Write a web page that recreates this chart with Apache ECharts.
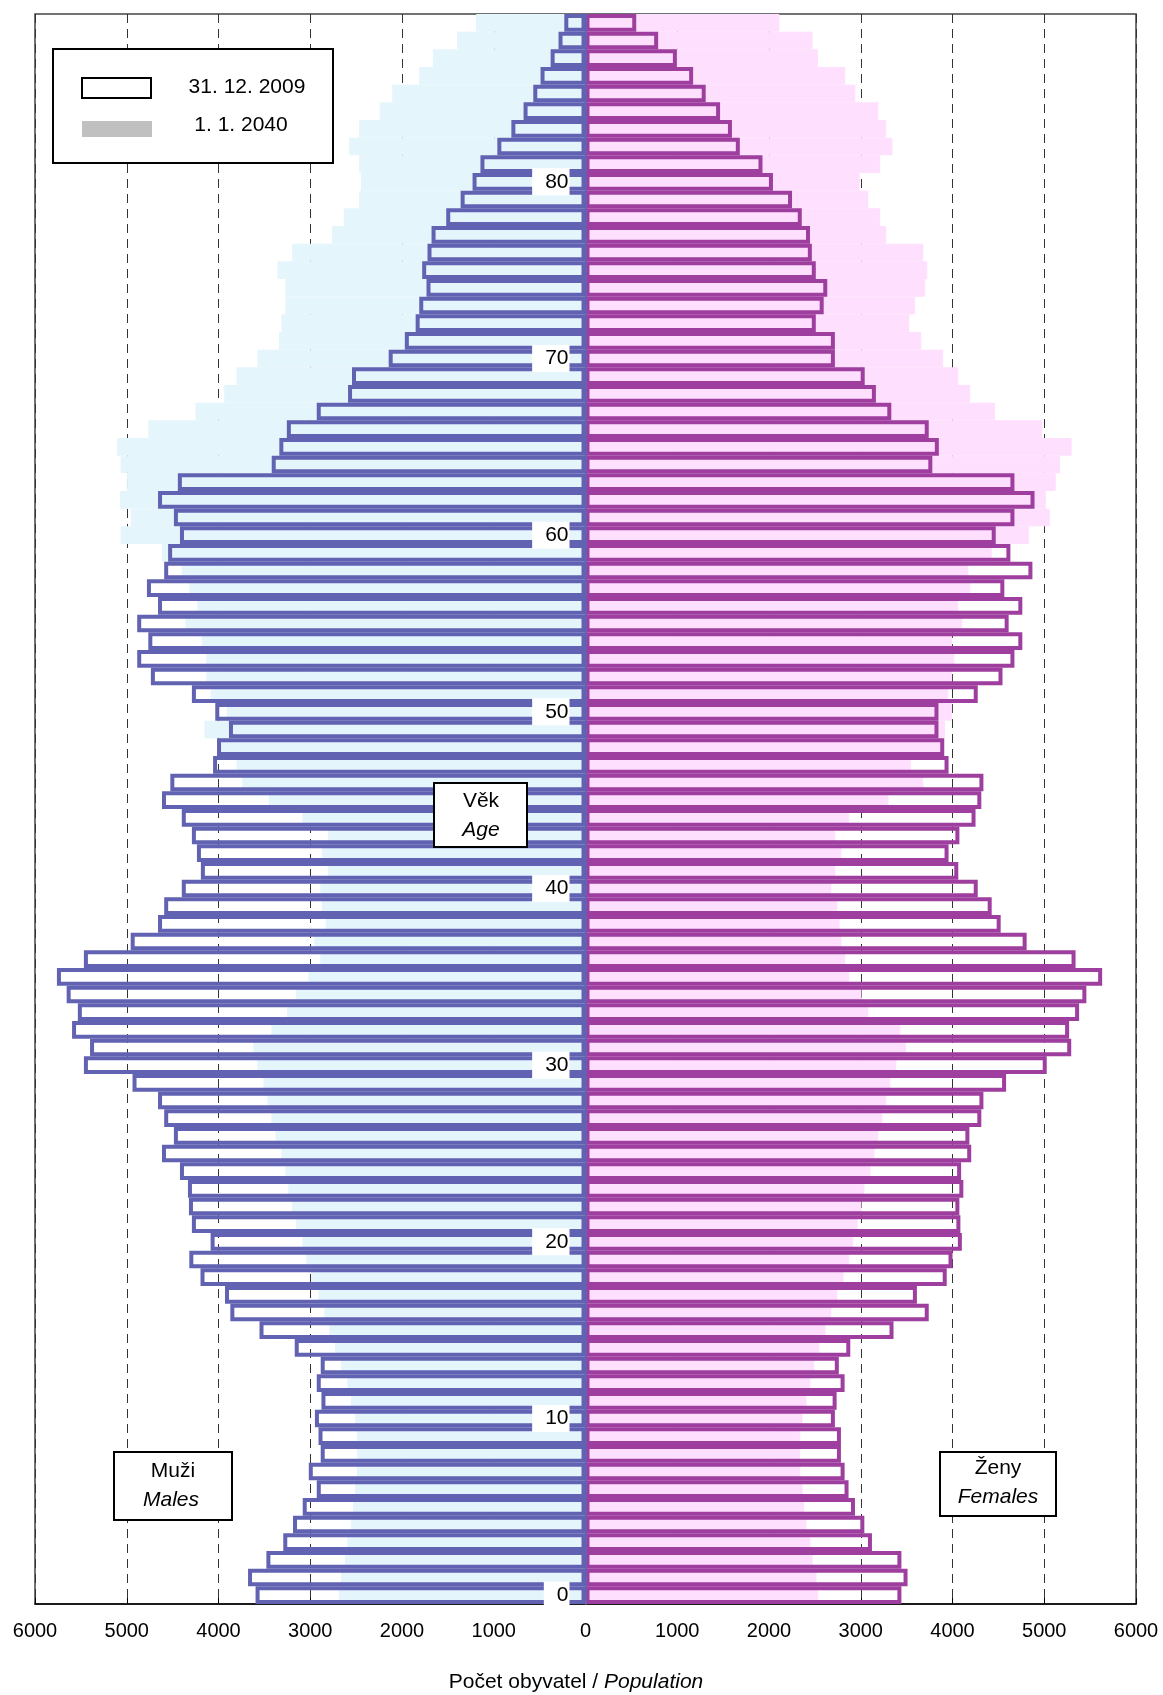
<!DOCTYPE html>
<html lang="cs">
<head>
  <meta charset="utf-8">
  <style>
    body { margin: 0; background: #fff; }
    #container { width: 1163px; height: 1695px; }
  </style>
</head>
<body>
  <div id="container"></div>
  <script src="https://cdn.jsdelivr.net/npm/echarts@6/dist/echarts.min.js"></script>
  <script>
    // vek 0..89
    var ages = [];
    for (var a = 0; a <= 89; a++) ages.push(String(a));

    // muzi 31. 12. 2009
    var males2009 = [3596, 3678, 3478, 3294, 3188, 3082, 2929, 3016, 2886, 2910,
      2949, 2878, 2929, 2886, 3169, 3553, 3871, 3929, 4196, 4318,
      4086, 4290, 4322, 4333, 4420, 4616, 4486, 4592, 4659, 4937,
      5467, 5400, 5596, 5533, 5655, 5761, 5467, 4957, 4659, 4592,
      4400, 4192, 4235, 4290, 4400, 4616, 4525, 4059, 4016, 3886,
      4035, 4290, 4737, 4886, 4765, 4886, 4659, 4780, 4592, 4549,
      4420, 4486, 4659, 4443, 3420, 3337, 3255, 2929, 2588, 2545,
      2145, 1969, 1851, 1812, 1733, 1780, 1722, 1678, 1518, 1361,
      1231, 1145, 961, 808, 675, 569, 490, 380, 294, 231];

    // muzi 1. 1. 2040
    var males2040 = [2686, 2663, 2620, 2596, 2557, 2533, 2510, 2490, 2490, 2490,
      2510, 2557, 2596, 2663, 2729, 2792, 2847, 2910, 2988, 3043,
      3086, 3153, 3196, 3239, 3271, 3314, 3380, 3424, 3467, 3510,
      3576, 3620, 3424, 3251, 3153, 3020, 2890, 2957, 2831, 2871,
      2890, 2804, 2871, 2804, 3086, 3451, 3741, 3804, 3988, 4153,
      3910, 4086, 4133, 4133, 4184, 4361, 4231, 4318, 4400, 4616,
      5067, 4957, 5075, 5000, 5067, 5106, 4765, 4251, 3937, 3804,
      3576, 3341, 3314, 3271, 3271, 3357, 3196, 2761, 2635, 2467,
      2447, 2467, 2576, 2467, 2243, 2106, 1812, 1663, 1400, 1192];

    // zeny 31. 12. 2009
    var females2009 = [3443, 3510, 3443, 3122, 3039, 2937, 2867, 2824, 2784, 2784,
      2718, 2737, 2824, 2761, 2886, 3357, 3741, 3612, 3937, 4000,
      4102, 4086, 4075, 4118, 4094, 4204, 4184, 4314, 4337, 4584,
      5027, 5294, 5271, 5380, 5459, 5631, 5341, 4808, 4525, 4427,
      4275, 4063, 3957, 4075, 4251, 4314, 4337, 3957, 3910, 3847,
      3847, 4275, 4545, 4675, 4761, 4612, 4761, 4565, 4871, 4631,
      4471, 4675, 4894, 4675, 3780, 3851, 3741, 3333, 3165, 3043,
      2718, 2718, 2510, 2596, 2635, 2510, 2467, 2447, 2357, 2251,
      2043, 1929, 1682, 1596, 1467, 1310, 1173, 996, 792, 553];

    // zeny 1. 1. 2040
    var females2040 = [2537, 2518, 2475, 2451, 2408, 2384, 2365, 2341, 2341, 2341,
      2365, 2408, 2451, 2494, 2549, 2616, 2678, 2745, 2812, 2875,
      2918, 2965, 3008, 3039, 3106, 3149, 3192, 3235, 3278, 3322,
      3388, 3494, 3431, 3082, 3008, 2875, 2831, 2788, 2769, 2745,
      2678, 2722, 2788, 2722, 2875, 3302, 3682, 3545, 3890, 3918,
      3996, 3953, 3996, 4020, 3996, 4106, 4063, 4192, 4173, 4427,
      4831, 5059, 5016, 5125, 5173, 5298, 4976, 4463, 4192, 4063,
      3898, 3659, 3529, 3592, 3702, 3725, 3682, 3278, 3212, 3082,
      2988, 3212, 3345, 3278, 3192, 2941, 2831, 2533, 2475, 2114];

    var FONT = 'Liberation Sans, Arial, sans-serif';
    var BLUE = '#6262B2';
    var PURPLE = '#9E3E9E';

    function neg(arr) {
      return arr.map(function (v) { return -v; });
    }

    var myChart = echarts.init(document.getElementById('container'), null, { renderer: 'canvas' });

    var option = {
      animation: false,
      grid: {
        left: 35, right: 27, top: 14, bottom: 91,
        containLabel: false,
        outerBoundsMode: 'none',
        show: true, borderColor: '#444', borderWidth: 1.5
      },
      xAxis: {
        type: 'value',
        min: -6000, max: 6000, interval: 1000,
        axisLine: { show: true, lineStyle: { color: '#000', width: 1.5 } },
        axisTick: { show: true, inside: true, length: 6, lineStyle: { color: '#000' } },
        axisLabel: {
          color: '#000', fontFamily: FONT, fontSize: 20, margin: 17,
          formatter: function (v) { return String(Math.abs(v)); }
        },
        splitLine: { show: true, lineStyle: { color: '#333', type: [9, 6], width: 1 } },
        name: '{n|Počet obyvatel / }{i|Population}',
        nameLocation: 'middle',
        nameGap: 68,
        nameTextStyle: {
          padding: [0, 19, 0, 0],
          rich: {
            n: { fontFamily: FONT, fontSize: 21, color: '#000' },
            i: { fontFamily: FONT, fontSize: 21, color: '#000', fontStyle: 'italic' }
          }
        }
      },
      yAxis: {
        type: 'category',
        data: ages,
        z: 10,
        position: 'left',
        offset: -550.5,
        axisLine: { show: true, onZero: false, lineStyle: { color: BLUE, width: 2 } },
        axisTick: { show: false },
        splitLine: { show: false },
        axisLabel: {
          interval: function (idx) { return idx % 10 === 0; },
          color: '#000',
          fontFamily: FONT,
          fontSize: 21,
          margin: 16,
          backgroundColor: '#fff',
          padding: [3, 1, 3, 13]
        }
      },
      series: [
        {
          name: 'Muži 2040', type: 'bar', data: neg(males2040),
          barCategoryGap: '0%', barGap: '-100%',
          itemStyle: { color: '#E5F5FC', borderColor: '#E5F5FC', borderWidth: 1 }
        },
        {
          name: 'Ženy 2040', type: 'bar', data: females2040,
          barCategoryGap: '0%', barGap: '-100%',
          itemStyle: { color: '#FFDFFE', borderColor: '#FFDFFE', borderWidth: 1 }
        },
        {
          name: 'Ženy 2009', type: 'bar', data: females2009,
          barCategoryGap: '0%', barGap: '-100%',
          itemStyle: { color: 'rgba(0,0,0,0)', borderColor: PURPLE, borderWidth: 4 }
        },
        {
          name: 'Muži 2009', type: 'bar', data: neg(males2009),
          barCategoryGap: '0%', barGap: '-100%',
          itemStyle: { color: 'rgba(0,0,0,0)', borderColor: BLUE, borderWidth: 4 }
        }
      ],
      graphic: [
        // legenda
        { type: 'rect', z: 100, shape: { x: 53, y: 49, width: 280, height: 114 },
          style: { fill: '#fff', stroke: '#000', lineWidth: 2 } },
        { type: 'rect', z: 101, shape: { x: 82, y: 78, width: 69, height: 20 },
          style: { fill: '#fff', stroke: '#000', lineWidth: 2 } },
        { type: 'rect', z: 101, shape: { x: 82, y: 121, width: 70, height: 16 },
          style: { fill: '#C0C0C0' } },
        { type: 'text', z: 101, style: { text: '31. 12. 2009', x: 247, y: 87, align: 'center', verticalAlign: 'middle',
          font: '21px ' + FONT, fill: '#000' } },
        { type: 'text', z: 101, style: { text: '1. 1. 2040', x: 241, y: 125, align: 'center', verticalAlign: 'middle',
          font: '21px ' + FONT, fill: '#000' } },

        // Věk / Age
        { type: 'rect', z: 100, shape: { x: 434, y: 783, width: 93, height: 64 },
          style: { fill: '#fff', stroke: '#000', lineWidth: 2 } },
        { type: 'text', z: 101, style: { text: 'Věk', x: 481, y: 801, align: 'center', verticalAlign: 'middle',
          font: '21px ' + FONT, fill: '#000' } },
        { type: 'text', z: 101, style: { text: 'Age', x: 481, y: 830, align: 'center', verticalAlign: 'middle',
          font: 'italic 21px ' + FONT, fill: '#000' } },

        // Muži / Males
        { type: 'rect', z: 100, shape: { x: 114, y: 1452, width: 118, height: 68 },
          style: { fill: '#fff', stroke: '#000', lineWidth: 2 } },
        { type: 'text', z: 101, style: { text: 'Muži', x: 173, y: 1471, align: 'center', verticalAlign: 'middle',
          font: '21px ' + FONT, fill: '#000' } },
        { type: 'text', z: 101, style: { text: 'Males', x: 171, y: 1500, align: 'center', verticalAlign: 'middle',
          font: 'italic 21px ' + FONT, fill: '#000' } },

        // Ženy / Females
        { type: 'rect', z: 100, shape: { x: 940, y: 1452, width: 116, height: 64 },
          style: { fill: '#fff', stroke: '#000', lineWidth: 2 } },
        { type: 'text', z: 101, style: { text: 'Ženy', x: 998, y: 1468, align: 'center', verticalAlign: 'middle',
          font: '21px ' + FONT, fill: '#000' } },
        { type: 'text', z: 101, style: { text: 'Females', x: 998, y: 1497, align: 'center', verticalAlign: 'middle',
          font: 'italic 21px ' + FONT, fill: '#000' } }
      ]
    };

    myChart.setOption(option);
    window.addEventListener('resize', myChart.resize);
  </script>
</body>
</html>
